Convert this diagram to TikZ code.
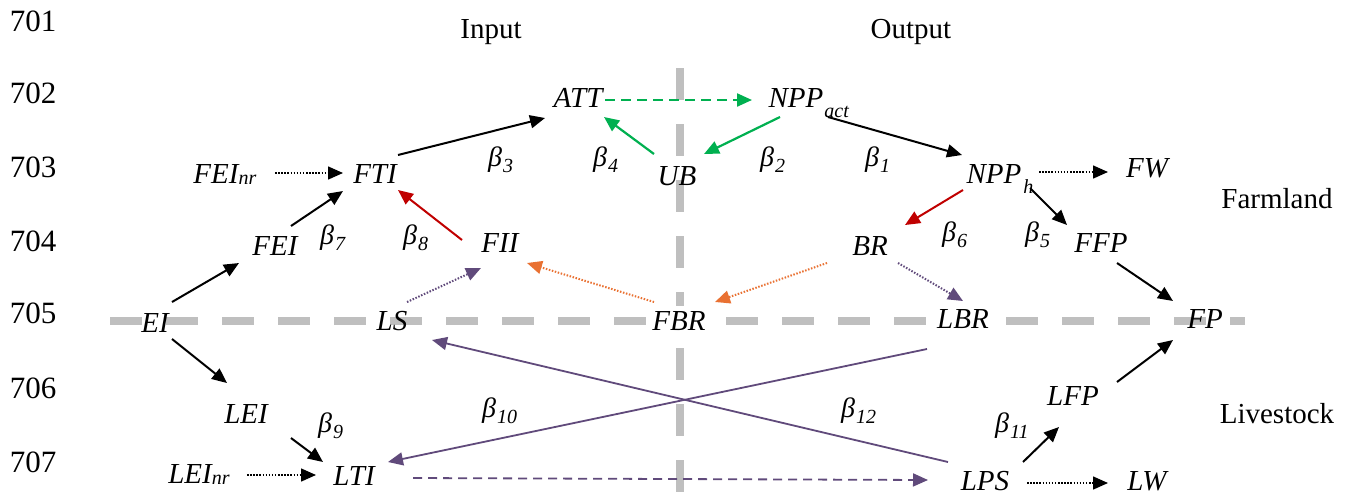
\documentclass[tikz,border=0pt]{standalone}
\usepackage{fontspec}
\setmainfont{Liberation Serif}
\usetikzlibrary{arrows.meta}
\definecolor{greyl}{HTML}{BFBFBF}
\definecolor{grn}{HTML}{00B050}
\definecolor{rd}{HTML}{C00000}
\definecolor{org}{HTML}{E97132}
\definecolor{prp}{HTML}{604A7B}
\newcommand{\sbs}[2]{\raisebox{#1}{\fontsize{20}{20}\selectfont #2}}
\newcommand{\bt}[1]{β\kern1pt\sbs{-6pt}{#1}}
\begin{document}
\begin{tikzpicture}[x=1pt,y=-1pt,
  lbl/.style={inner sep=0pt, anchor=base, font=\fontsize{29}{34}\selectfont\itshape},
  wlbl/.style={lbl, fill=white, text height=24pt, text depth=16pt, inner xsep=4pt, inner ysep=0pt},
  txt/.style={inner sep=0pt, anchor=base, font=\fontsize{29}{34}\selectfont},
  num/.style={inner sep=0pt, anchor=base, font=\fontsize{31}{36}\selectfont},
  bet/.style={inner sep=0pt, anchor=base west, font=\fontsize{28}{34}\selectfont\itshape},
  tip/.style={-{Triangle[length=15pt,width=13pt]}},
  arr/.style={tip, line width=2pt, black},
  dotarr/.style={tip, line width=1.5pt, dash pattern=on 1.5pt off 1.6pt},
  grarr/.style={tip, line width=2.2pt, grn},
  grdash/.style={tip, line width=2.2pt, grn, dash pattern=on 10pt off 6pt},
  rdarr/.style={tip, line width=2pt, rd},
  ordot/.style={dotarr, org, line width=2pt},
  prdot/.style={dotarr, prp, line width=2pt},
  prarr/.style={tip, line width=1.8pt, prp},
  prdash/.style={tip, line width=1.8pt, prp, dash pattern=on 9pt off 6pt},
  greyd/.style={line width=8pt, greyl, dash pattern=on 32pt off 24pt}
]
\useasboundingbox (0,0) rectangle (1348,496);
% separators
\draw[greyd] (110,321) -- (1245,321);
\draw[greyd] (680,68) -- (680,496);
% line numbers
\node[num] (n701) at (33,31) {701};
\node[num] (n702) at (33,103) {702};
\node[num] (n703) at (33,177) {703};
\node[num] (n704) at (33,251) {704};
\node[num] (n705) at (33,323) {705};
\node[num] (n706) at (33,398) {706};
\node[num] (n707) at (33,472) {707};
% headings
\node[txt] (input) at (491,38) {Input};
\node[txt] (output) at (911,38) {Output};
\node[txt] (farm) at (1277,208) {Farmland};
\node[txt] (live) at (1277,423) {Livestock};
% variables
\node[lbl] (ATT) at (578,107) {ATT};
\node[lbl] (NPPa) at (796,107) {NPP\rlap{\kern1pt\sbs{-10pt}{act}}};
\node[lbl] (UB) at (677,185) {UB};
\node[lbl] (FTI) at (375,183) {FTI};
\node[lbl] (FEInr) at (216,183) {FEI\rlap{\sbs{-1pt}{nr}}};
\node[lbl] (NPPh) at (994,183) {NPP\rlap{\kern2pt\sbs{-10pt}{h}}};
\node[lbl] (FW) at (1147,177) {FW};
\node[lbl] (FEI) at (275,255) {FEI};
\node[lbl] (FII) at (500,252) {FII};
\node[lbl] (BR) at (870,255) {BR};
\node[lbl] (FFP) at (1101,252) {FFP};
\node[lbl] (EI) at (155,332) {EI};
\node[lbl] (LS) at (392,330) {LS};
\node[wlbl] (FBR) at (679,330) {FBR};
\node[wlbl] (LBR) at (963,328) {LBR};
\node[lbl] (FP) at (1205,328) {FP};
\node[lbl] (LEI) at (246,423) {LEI};
\node[lbl] (LFP) at (1073,405) {LFP};
\node[lbl] (LEInr) at (190,483) {LEI\rlap{\sbs{-1pt}{nr}}};
\node[lbl] (LTI) at (354,485) {LTI};
\node[lbl] (LPS) at (985,490) {LPS};
\node[lbl] (LW) at (1147,490) {LW};
% coefficients
\node[bet] (b3) at (488,166) {\bt{3}};
\node[bet] (b4) at (593,166) {\bt{4}};
\node[bet] (b2) at (760,166) {\bt{2}};
\node[bet] (b1) at (865,166) {\bt{1}};
\node[bet] (b7) at (320,244) {\bt{7}};
\node[bet] (b8) at (403,244) {\bt{8}};
\node[bet] (b6) at (942,241) {\bt{6}};
\node[bet] (b5) at (1025,241) {\bt{5}};
\node[bet] (b9) at (318,432) {\bt{9}};
\node[bet] (b10) at (482,417) {\bt{10}};
\node[bet] (b12) at (841,417) {\bt{12}};
\node[bet] (b11) at (995,432) {\bt{11}};
% connectors
\draw[arr] ([shift={(23,-28)}]FTI.base) -- ([shift={(-33,11)}]ATT.base);
\draw[grdash] ([shift={(27,-7)}]ATT.base) -- ([shift={(-44,-7)}]NPPa.base);
\draw[grarr] ([shift={(-23,-31)}]UB.base) -- ([shift={(26,10)}]ATT.base);
\draw[grarr] ([shift={(-16,10)}]NPPa.base) -- ([shift={(27,-31)}]UB.base);
\draw[arr] ([shift={(32,10)}]NPPa.base) -- ([shift={(-32,-28)}]NPPh.base);
\draw[dotarr] ([shift={(45,-11)}]NPPh.base) -- ([shift={(-39,-5)}]FW.base);
\draw[arr] ([shift={(36,5)}]NPPh.base) -- ([shift={(-34,-27)}]FFP.base);
\draw[rdarr] ([shift={(-31,7)}]NPPh.base) -- ([shift={(35,-30)}]BR.base);
\draw[arr] ([shift={(16,11)}]FFP.base) -- ([shift={(-32,-27)}]FP.base);
\draw[arr] ([shift={(44,-23)}]LFP.base) -- ([shift={(-32,12)}]FP.base);
\draw[arr] ([shift={(38,-28)}]LPS.base) -- ([shift={(-14,22)}]LFP.base);
\draw[dotarr] ([shift={(42,-7)}]LPS.base) -- ([shift={(-39,-7)}]LW.base);
\draw[prdash] ([shift={(59,-7)}]LTI.base) -- ([shift={(-57,-10)}]LPS.base);
\draw[dotarr] ([shift={(57,-8)}]LEInr.base) -- ([shift={(-38,-10)}]LTI.base);
\draw[arr] ([shift={(45,15)}]LEI.base) -- ([shift={(-31,-23)}]LTI.base);
\draw[arr] ([shift={(17,7)}]EI.base) -- ([shift={(-19,-40)}]LEI.base);
\draw[arr] ([shift={(17,-30)}]EI.base) -- ([shift={(-36,8)}]FEI.base);
\draw[arr] ([shift={(16,-29)}]FEI.base) -- ([shift={(-32,8)}]FTI.base);
\draw[dotarr] ([shift={(59,-10)}]FEInr.base) -- ([shift={(-32,-10)}]FTI.base);
\draw[rdarr] ([shift={(-38,-12)}]FII.base) -- ([shift={(23,7)}]FTI.base);
\draw[prdot] ([shift={(15,-28)}]LS.base) -- ([shift={(-19,16)}]FII.base);
\draw[ordot] ([shift={(-25,-28)}]FBR.base) -- ([shift={(27,11)}]FII.base);
\draw[ordot] ([shift={(-43,8)}]BR.base) -- ([shift={(36,-28)}]FBR.base);
\draw[prdot] ([shift={(28,8)}]BR.base) -- ([shift={(0,-27)}]LBR.base);
\draw[prarr] ([shift={(-36,21)}]LBR.base) -- ([shift={(34,-23)}]LTI.base);
\draw[prarr] ([shift={(-37,-28)}]LPS.base) -- ([shift={(40,10)}]LS.base);
\end{tikzpicture}
\end{document}
